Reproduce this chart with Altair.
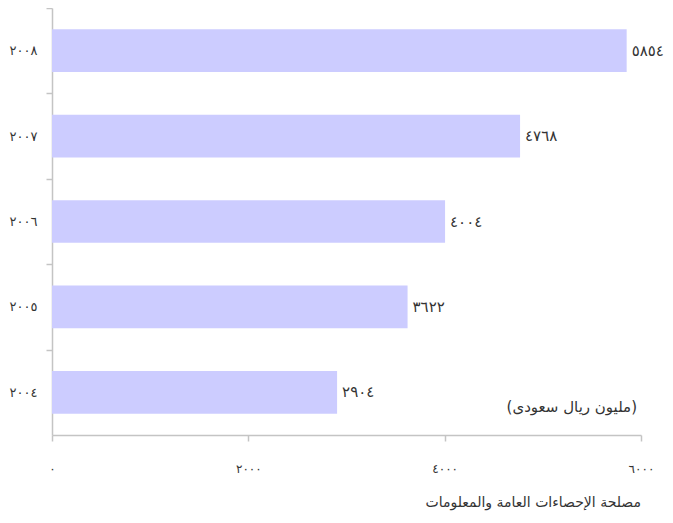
import altair as alt
import pandas as pd

# Data
years = ["٢٠٠٨", "٢٠٠٧", "٢٠٠٦", "٢٠٠٥", "٢٠٠٤"]
values = [5854, 4768, 4004, 3622, 2904]
value_labels = ["٥٨٥٤", "٤٧٦٨", "٤٠٠٤", "٣٦٢٢", "٢٩٠٤"]
x_ticks = [0, 2000, 4000, 6000]
x_tick_labels = ["٠", "٢٠٠٠", "٤٠٠٠", "٦٠٠٠"]
unit_note = "(مليون ريال سعودى)"
source_note = "مصلحة الإحصاءات العامة والمعلومات"

df = pd.DataFrame({"year": years, "value": values, "label": value_labels})

FONT = "DejaVu Sans"
AXIS_COLOR = "#c4c4c4"
TEXT_COLOR = "#333333"

W, H = 589, 427
n = len(years)
p_inner, p_outer = 0.5, 0.25
step = H / (n - p_inner + 2 * p_outer)

label_expr = " : ".join(
    f"datum.value == {v} ? '{t}'" for v, t in zip(x_ticks, x_tick_labels)
) + " : ''"

x_enc = alt.X(
    "value:Q",
    scale=alt.Scale(domain=[x_ticks[0], x_ticks[-1]], nice=False, zero=True),
    axis=alt.Axis(
        values=x_ticks,
        labelExpr=label_expr,
        title=None,
        grid=False,
        domainColor=AXIS_COLOR,
        domainWidth=1.5,
        tickColor=AXIS_COLOR,
        tickWidth=1.5,
        tickSize=6,
        labelPadding=22,
        labelFlush=False,
        labelFont=FONT,
        labelFontSize=12,
        labelColor=TEXT_COLOR,
    ),
)

y_enc = alt.Y(
    "year:N",
    sort=years,
    scale=alt.Scale(paddingInner=p_inner, paddingOuter=p_outer),
    axis=alt.Axis(
        title=None,
        grid=False,
        bandPosition=0.5,
        tickOffset=-step / 2,
        labelOffset=step / 2,
        domainColor=AXIS_COLOR,
        domainWidth=1.5,
        tickColor=AXIS_COLOR,
        tickWidth=1.5,
        tickSize=6,
        labelPadding=9,
        labelFont=FONT,
        labelFontSize=13,
        labelColor=TEXT_COLOR,
    ),
)

bars = alt.Chart(df).mark_bar(color="#CCCCFF").encode(x=x_enc, y=y_enc)

vals = alt.Chart(df).mark_text(
    align="left", baseline="middle", dx=5, font=FONT, fontSize=15, color=TEXT_COLOR
).encode(x="value:Q", y=alt.Y("year:N", sort=years), text="label:N")

note_df = pd.DataFrame({"x": [x_ticks[-1]], "year": [years[-1]], "t": [unit_note]})
note = alt.Chart(note_df).mark_text(
    align="right", baseline="middle", dx=-4, dy=15, font=FONT, fontSize=15, color=TEXT_COLOR
).encode(x="x:Q", y=alt.Y("year:N", sort=years), text="t:N")

chart = (
    alt.layer(bars, vals, note)
    .properties(
        width=W,
        height=H,
        padding={"left": 44, "top": 0, "right": 24, "bottom": 80},
        autosize=alt.AutoSizeParams(type="none"),
        title=alt.TitleParams(
            text=source_note,
            orient="bottom",
            anchor="end",
            frame="group",
            font=FONT,
            fontSize=14,
            fontWeight="normal",
            color=TEXT_COLOR,
            offset=22,
        ),
    )
    .configure_view(stroke=None)
)

chart.save("out.html", embed_options={"renderer": "svg", "actions": False})
